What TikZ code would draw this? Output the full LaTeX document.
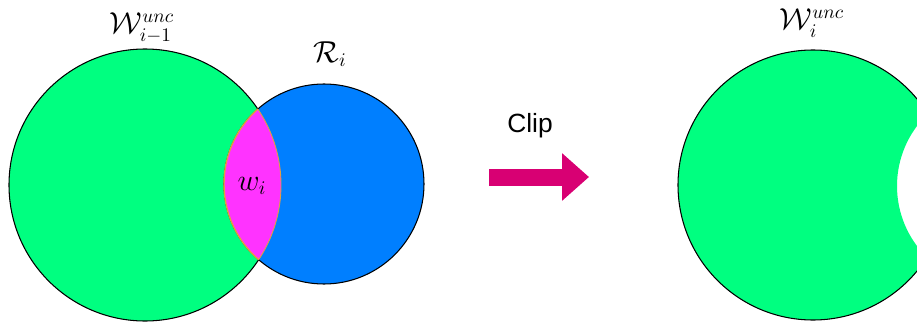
\documentclass[tikz,border=0pt]{standalone}
\usepackage{amsmath}
\usepackage{fontspec}
\newfontfamily\clipfont{Liberation Sans}
\usetikzlibrary{arrows.meta}

\definecolor{wgreen}{HTML}{00FF80}
\definecolor{rblue}{HTML}{007FFF}
\definecolor{lensmag}{HTML}{FF33FF}
\definecolor{lensedge}{HTML}{E0A040}
\definecolor{cliparrow}{HTML}{D80073}

\begin{document}
\begin{tikzpicture}[x=0.02cm, y=0.02cm,
  region/.style={draw=black, line width=0.6pt},
  lbl/.style={font=\fontsize{16}{19}\selectfont, inner sep=1pt},
  cliparr/.style={draw=cliparrow, line width=0.34cm,
    -{Triangle[length=0.54cm, width=0.92cm]}}]
  \useasboundingbox (0,0) rectangle (917,322);
  \clip (0,0) rectangle (917,322);

  % 左图：W_{i-1} 与 R_i 相交
  \coordinate (Wc) at (145,137);
  \coordinate (Rc) at (324,138);
  \draw[region, fill=wgreen] (Wc) circle (136);
  \draw[region, fill=rblue] (Rc) circle (100);
  \begin{scope}
    \clip (Wc) circle (136);
    \filldraw[fill=lensmag, draw=lensedge, line width=0.8pt] (Rc) circle (100);
  \end{scope}
  \begin{scope}
    \clip (Rc) circle (100);
    \draw[lensedge, line width=0.5pt] (Wc) circle (136);
  \end{scope}

  \node[lbl] (wprev) at (142,294) {$\mathcal{W}_{i-1}^{unc}$};
  \node[lbl] (ri)    at (330,268) {$\mathcal{R}_i$};
  \node[lbl] (wi)    at (252,136) {$w_i$};

  % 箭头
  \coordinate (a1) at (489,145);
  \coordinate (a2) at (589,145);
  \draw[cliparr] (a1) -- (a2);
  \node[font=\clipfont\fontsize{15}{18}\selectfont] (clip) at (530,196) {Clip};

  % 右图：裁剪后的 W_i
  \coordinate (Nc) at (813,137);
  \coordinate (Cc) at (997,136);
  \begin{scope}[even odd rule]
    \clip (0,0) rectangle (917,322) (Cc) circle (100);
    \draw[region, fill=wgreen] (Nc) circle (135);
  \end{scope}
  \node[lbl] (wnew) at (812,299) {$\mathcal{W}_i^{unc}$};
\end{tikzpicture}
\end{document}
